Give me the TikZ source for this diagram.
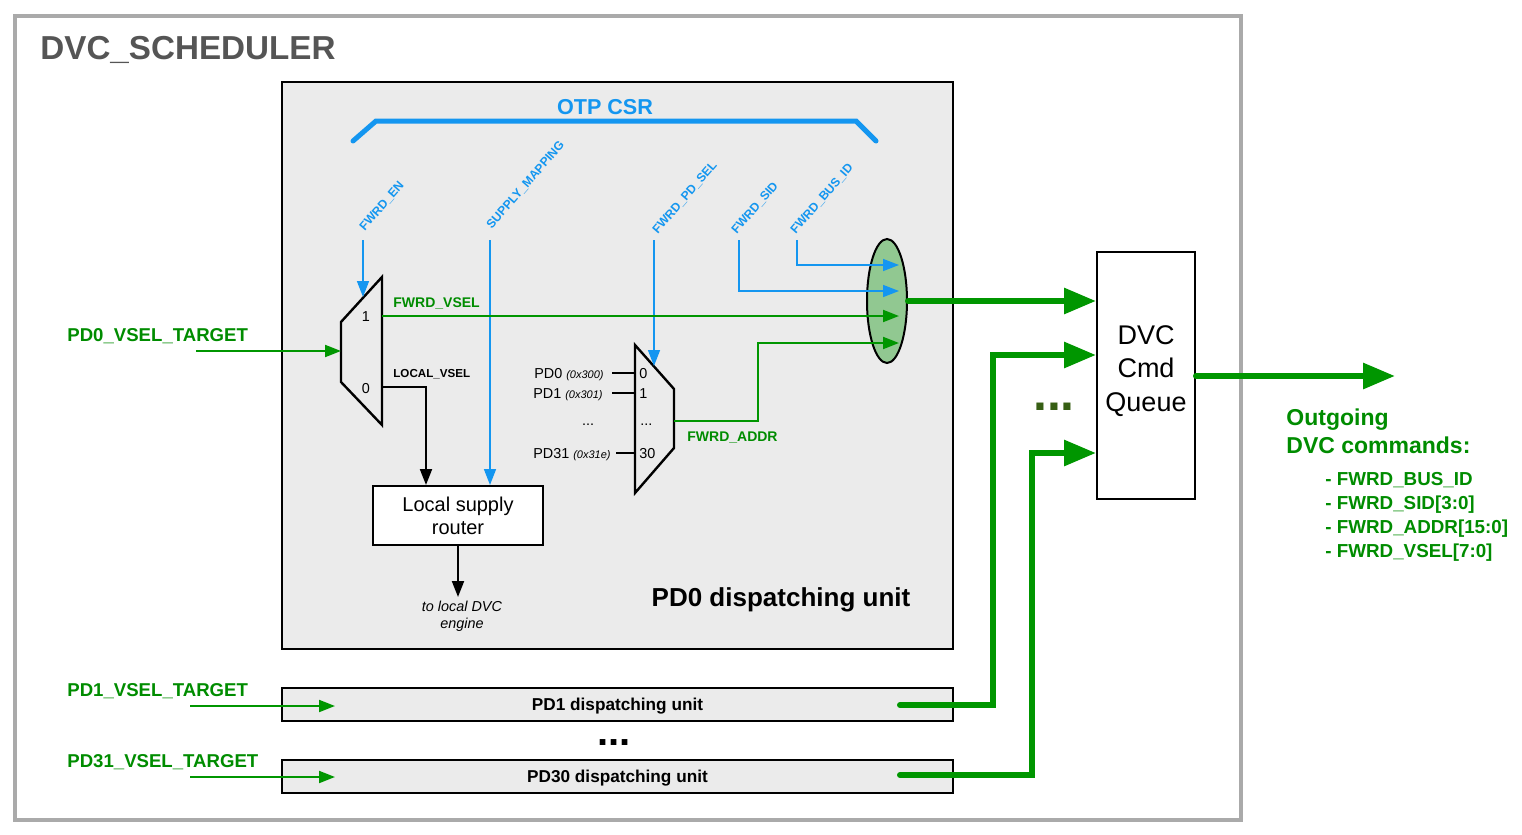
\documentclass[tikz,border=0pt]{standalone}
\usepackage{fontspec}
\setmainfont{Liberation Sans}
\usetikzlibrary{arrows.meta,shapes.geometric}

\definecolor{framegray}{RGB}{170,170,170}
\definecolor{titlegray}{RGB}{85,85,85}
\definecolor{unitfill}{RGB}{235,235,235}
\definecolor{csrblue}{RGB}{20,150,240}
\definecolor{sigreen}{RGB}{0,150,0}
\definecolor{txtgreen}{RGB}{0,140,0}
\definecolor{bundlefill}{RGB}{145,200,145}
\definecolor{dotgreen}{RGB}{55,95,20}

\newcommand{\pdaddr}[1]{{\fontsize{5.5}{6}\selectfont\itshape(#1)}}

\tikzset{
  unitbox/.style={draw=black,fill=unitfill,line width=1pt,inner sep=0pt},
  muxbody/.style={draw=black,line width=1.2pt,line join=miter},
  csrlabel/.style={text=csrblue,font=\fontsize{6.1}{7}\selectfont\bfseries,rotate=49,anchor=south west,inner sep=0pt},
  siglabel/.style={font=\fontsize{7}{8}\selectfont\bfseries,anchor=base west,inner sep=0pt},
  vsellabel/.style={text=txtgreen,font=\fontsize{9.3}{11}\selectfont\bfseries,anchor=base west,inner sep=0pt},
  portlabel/.style={font=\fontsize{7.2}{8}\selectfont,inner sep=0pt},
  greensig/.style={draw=sigreen,line width=1pt,-{Triangle[length=8pt,width=6pt]}},
  bluesig/.style={draw=csrblue,line width=0.8pt,-{Triangle[length=8pt,width=6pt]}},
  blacksig/.style={draw=black,line width=1pt,-{Triangle[length=8pt,width=6pt]}},
  greenbus/.style={draw=sigreen,line width=3pt,line cap=round,-{Triangle[length=16pt,width=12.5pt]}}
}

\begin{document}
\begin{tikzpicture}[x=0.5pt,y=-0.5pt]
    \useasboundingbox (0,0) rectangle (1522,835);
    % scheduler frame
    \draw[framegray,line width=2pt] (15,16) rectangle (1241,820);
    \node[anchor=base west,inner sep=0pt,text=titlegray,font=\fontsize{16.6}{20}\selectfont\bfseries] (title) at (40,60) {DVC\_SCHEDULER};

    % dispatching units
    \begin{scope}[every node/.style={unitbox,minimum width=335.5pt}]
        \node[minimum height=283.5pt] (pd0unit) at (617.5,365.5) {};
        \node[minimum height=16.5pt,text height=6pt,text depth=0pt,font=\fontsize{8.6}{9}\selectfont\bfseries] (pd1unit) at (617.5,704.5) {PD1 dispatching unit};
        \node[minimum height=16.5pt,text height=6pt,text depth=0pt,font=\fontsize{8.6}{9}\selectfont\bfseries] (pd30unit) at (617.5,776.5) {PD30 dispatching unit};
    \end{scope}
    \node[anchor=base,inner sep=0pt,font=\fontsize{13}{15}\selectfont\bfseries] (pd0title) at (781,606) {PD0 dispatching unit};
    \node[anchor=base,inner sep=0pt,font=\fontsize{20}{20}\selectfont\bfseries] (unitdots) at (614,745) {...};

    % OTP CSR
    \node[anchor=base,inner sep=0pt,text=csrblue,font=\fontsize{10.8}{12}\selectfont\bfseries] (otpcsr) at (605,114) {OTP CSR};
    \draw[csrblue,line width=2.5pt,line cap=round] (353,141) -- (376,121) -- (856,121) -- (876,141);
    \node[csrlabel] (lblen) at (366,233) {FWRD\_EN};
    \node[csrlabel] (lblsupply) at (493,231) {SUPPLY\_MAPPING};
    \node[csrlabel] (lblpdsel) at (659,236) {FWRD\_PD\_SEL};
    \node[csrlabel] (lblsid) at (738,236) {FWRD\_SID};
    \node[csrlabel] (lblbusid) at (797,236) {FWRD\_BUS\_ID};

    % coordinates
    \coordinate (m1a) at (341,322);
    \coordinate (m1b) at (382,277);
    \coordinate (m1c) at (382,425);
    \coordinate (m1d) at (341,382);
    \coordinate (m2a) at (635,345);
    \coordinate (m2b) at (674,389);
    \coordinate (m2c) at (674,448);
    \coordinate (m2d) at (635,493);
    \coordinate (m1in) at (341,351);
    \coordinate (m1sel) at (363,297);
    \coordinate (m1out1) at (382,316);
    \coordinate (m1out0) at (382,387);
    \coordinate (m2sel) at (654,366);
    \coordinate (m2out) at (674,421);
    \coordinate (m2in0) at (635,373);
    \coordinate (m2in1) at (635,393);
    \coordinate (m2in30) at (635,453);
    \coordinate (s0) at (612,373);
    \coordinate (s1) at (612,393);
    \coordinate (s30) at (616,453);
    \coordinate (tapen) at (363,240);
    \coordinate (tapsupply) at (490,240);
    \coordinate (tappdsel) at (654,240);
    \coordinate (tapsid) at (739,240);
    \coordinate (tapbusid) at (797,240);
    \coordinate (bbus) at (899,265);
    \coordinate (bsid) at (899,291);
    \coordinate (bvsel) at (899,316);
    \coordinate (baddr) at (899,343);
    \coordinate (addrbend) at (758,343);
    \coordinate (pd0src) at (196,351);
    \coordinate (pd1src) at (190,706);
    \coordinate (pd1in) at (335,706);
    \coordinate (pd31src) at (190,777);
    \coordinate (pd31in) at (335,777);
    \coordinate (pd1out) at (900,705);
    \coordinate (pd1bend) at (993,355);
    \coordinate (pd30out) at (900,775);
    \coordinate (pd30bend) at (1032,453);
    \coordinate (cmdout) at (1395,376);
    \coordinate (engtip) at (458,597);

    % muxes
    \draw[muxbody] (m1a) -- (m1b) -- (m1c) -- (m1d) -- cycle;
    \draw[muxbody] (m2a) -- (m2b) -- (m2c) -- (m2d) -- cycle;
    \node[portlabel,anchor=base] (m1one) at (366,321) {1};
    \node[portlabel,anchor=base] (m1zero) at (366,393) {0};
    \node[portlabel,anchor=base west] (m2zero) at (639,378) {0};
    \node[portlabel,anchor=base west] (m2one) at (639,398) {1};
    \node[portlabel,anchor=base west] (m2dots) at (640,425) {...};
    \node[portlabel,anchor=base west] (m2last) at (639,458) {30};
    \node[portlabel,anchor=base east] (pd0sel) at (604,378) {PD0 \pdaddr{0x300}};
    \node[portlabel,anchor=base east] (pd1sel) at (603,398) {PD1 \pdaddr{0x301}};
    \node[portlabel,anchor=base] (pdxsel) at (588,425) {...};
    \node[portlabel,anchor=base east] (pd31sel) at (611,458) {PD31 \pdaddr{0x31e}};
    \draw[line width=0.7pt] (s0) -- (m2in0) (s1) -- (m2in1) (s30) -- (m2in30);

    % signal labels
    \node[siglabel,text=txtgreen] (lblvsel) at (393,307) {FWRD\_VSEL};
    \node[siglabel,font=\fontsize{5.8}{7}\selectfont\bfseries] (lbllocal) at (393,377) {LOCAL\_VSEL};
    \node[siglabel,text=txtgreen] (lbladdr) at (687,441) {FWRD\_ADDR};
    \node[vsellabel] (pd0target) at (67,341) {PD0\_VSEL\_TARGET};
    \node[vsellabel] (pd1target) at (67,696) {PD1\_VSEL\_TARGET};
    \node[vsellabel] (pd31target) at (67,767) {PD31\_VSEL\_TARGET};

    % router, bundle, queue
    \node[draw,fill=white,line width=1pt,minimum width=85pt,minimum height=29.5pt,align=center,font=\fontsize{10}{11.5}\selectfont,inner sep=0pt] (router) at (458,515.5) {Local supply\\router};
    \node[align=center,font=\fontsize{7.2}{8.7}\selectfont\itshape,inner sep=0pt] (engine) at (462,616) {to local DVC\\engine};
    \node[ellipse,draw=black,fill=bundlefill,line width=1pt,minimum width=20pt,minimum height=62pt,inner sep=0pt] (bundle) at (887,301) {};
    \node[draw,fill=white,line width=1pt,minimum width=49pt,minimum height=123.5pt,inner sep=0pt] (queue) at (1146,375.5) {};
    \node[align=center,font=\fontsize{13.5}{16.7}\selectfont,inner sep=0pt] (queuetxt) at (1146,371) {DVC\\Cmd\\Queue};
    \node[anchor=base,inner sep=0pt,text=dotgreen,font=\fontsize{25}{25}\selectfont\bfseries] (qdots) at (1054,410) {...};
    \node[anchor=west,align=left,inner sep=0pt,text=txtgreen,font=\fontsize{11.5}{14}\selectfont\bfseries] (outgoing) at (1286,431) {Outgoing\\DVC commands:};
    \node[anchor=west,align=left,inner sep=0pt,text=txtgreen,font=\fontsize{9.4}{12}\selectfont\bfseries] (outlist) at (1325,517) {- FWRD\_BUS\_ID\\- FWRD\_SID[3:0]\\- FWRD\_ADDR[15:0]\\- FWRD\_VSEL[7:0]};

    % connectors
    \begin{scope}[every edge/.style={bluesig}]
        \path
            (tapen) edge (m1sel)
            (tapsupply) edge (tapsupply |- router.north)
            (tappdsel) edge (m2sel);
    \end{scope}
    \draw[bluesig] (tapsid) |- (bsid);
    \draw[bluesig] (tapbusid) |- (bbus);
    \draw[greensig] (m1out1) -- (bvsel);
    \draw[greensig] (m2out) -| (addrbend) -- (baddr);
    \draw[blacksig] (m1out0) -| ([xshift=-16pt]router.north);
    \draw[blacksig] (router.south) -- (engtip);
    \begin{scope}[every edge/.style={greensig}]
        \path
            (pd0src) edge (m1in)
            (pd1src) edge (pd1in)
            (pd31src) edge (pd31in);
    \end{scope}
    \draw[greenbus] (bundle.east) -- (queue.west |- bundle.east);
    \draw[greenbus] (pd1out) -| (pd1bend) -- (queue.west |- pd1bend);
    \draw[greenbus] (pd30out) -| (pd30bend) -- (queue.west |- pd30bend);
    \draw[greenbus] (queue.east |- cmdout) -- (cmdout);
\end{tikzpicture}
\end{document}
